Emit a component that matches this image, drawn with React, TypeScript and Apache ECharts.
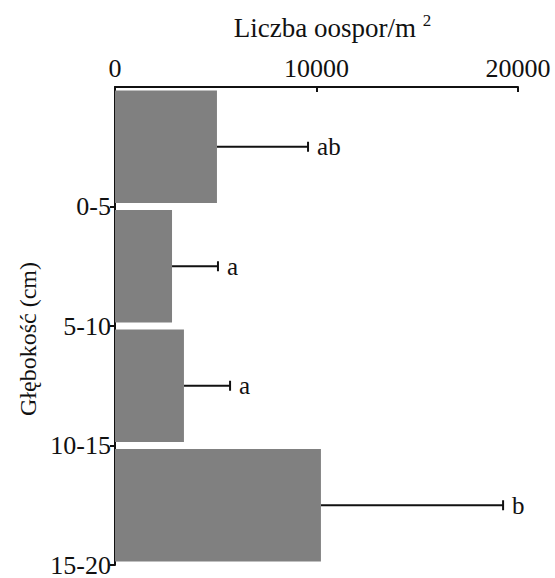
import React, { useEffect, useRef } from "react";
import * as echarts from "echarts";

// Soil depth layers (top to bottom)
const depths = ["0-5", "5-10", "10-15", "15-20"];
// Mean number of oospores per m²
const means = [5060, 2830, 3420, 10220];
// Upper end of the error bar
const upper = [9580, 5110, 5710, 19260];
// Significance letters
const letters = ["ab", "a", "a", "b"];
// Top axis ticks
const xTicks = [0, 10000, 20000];

const FONT = "Liberation Serif";

export default function App() {
  const ref = useRef<HTMLDivElement>(null);

  useEffect(() => {
    if (!ref.current) return;
    const chart = echarts.init(ref.current, undefined, { renderer: "svg" });

    chart.setOption({
      animation: false,
      backgroundColor: "#ffffff",
      textStyle: { fontFamily: FONT },
      grid: {
        left: 115,
        right: 37,
        top: 87,
        bottom: 13,
        containLabel: false,
        outerBoundsMode: "none",
      },
      xAxis: {
        type: "value",
        position: "top",
        min: xTicks[0],
        max: xTicks[xTicks.length - 1],
        interval: xTicks[1] - xTicks[0],
        name: "{n|Liczba oospor/m }{s|2}",
        nameLocation: "middle",
        nameGap: 44,
        nameTextStyle: {
          fontFamily: FONT,
          padding: [0, 0, 0, 32],
          rich: {
            n: { fontFamily: FONT, fontSize: 27, color: "#111" },
            s: { fontFamily: FONT, fontSize: 17, color: "#111", verticalAlign: "top", padding: [0, 0, 14, 0] },
          },
        },
        axisLine: { show: true, lineStyle: { color: "#111", width: 2 } },
        axisTick: { show: true, inside: true, length: 5, lineStyle: { color: "#111", width: 2 } },
        axisLabel: {
          fontFamily: FONT,
          fontSize: 26,
          color: "#111",
          margin: 6,
          formatter: (v: number) => String(v),
        },
        splitLine: { show: false },
      },
      yAxis: [
        {
          type: "category",
          data: depths,
          inverse: true,
          show: false,
        },
        {
          type: "value",
          position: "left",
          min: 0,
          max: depths.length,
          interval: 1,
          inverse: true,
          axisLine: { show: true, lineStyle: { color: "#111", width: 2 } },
          axisTick: {
            show: true,
            length: 5,
            customValues: depths.map((_, i) => i + 1),
            lineStyle: { color: "#111", width: 2 },
          },
          axisLabel: {
            customValues: depths.map((_, i) => i + 1),
            formatter: (v: number) => depths[Math.round(v) - 1] ?? "",
            fontFamily: FONT,
            fontSize: 26,
            color: "#111",
            margin: 4,
          },
          splitLine: { show: false },
        },
      ],
      series: [
        {
          type: "bar",
          yAxisIndex: 0,
          data: means,
          barCategoryGap: "6%",
          itemStyle: { color: "#808080" },
        },
        {
          type: "custom",
          yAxisIndex: 0,
          data: depths.map((_, i) => [means[i], upper[i], i]),
          encode: { x: [0, 1], y: 2 },
          renderItem: (params: any, api: any) => {
            const idx = api.value(2);
            const start = api.coord([api.value(0), idx]);
            const end = api.coord([api.value(1), idx]);
            const y = start[1];
            const cap = 5;
            return {
              type: "group",
              children: [
                {
                  type: "line",
                  shape: { x1: start[0], y1: y, x2: end[0], y2: y },
                  style: { stroke: "#111", lineWidth: 2 },
                },
                {
                  type: "line",
                  shape: { x1: end[0], y1: y - cap, x2: end[0], y2: y + cap },
                  style: { stroke: "#111", lineWidth: 2 },
                },
                {
                  type: "text",
                  x: end[0] + 9,
                  y: y,
                  style: {
                    text: letters[params.dataIndex],
                    fontFamily: FONT,
                    fontSize: 25,
                    fill: "#111",
                    verticalAlign: "middle",
                    align: "left",
                  },
                },
              ],
            };
          },
        },
      ],
      graphic: [
        {
          type: "text",
          x: 28,
          y: 339,
          rotation: Math.PI / 2,
          style: {
            text: "Głębokość (cm)",
            fontFamily: FONT,
            fontSize: 24,
            fill: "#111",
            align: "center",
            verticalAlign: "middle",
          },
        },
      ],
    });

    return () => chart.dispose();
  }, []);

  return (
    <div
      ref={ref}
      style={{ position: "fixed", left: 0, top: 0, width: 555, height: 578 }}
    />
  );
}
